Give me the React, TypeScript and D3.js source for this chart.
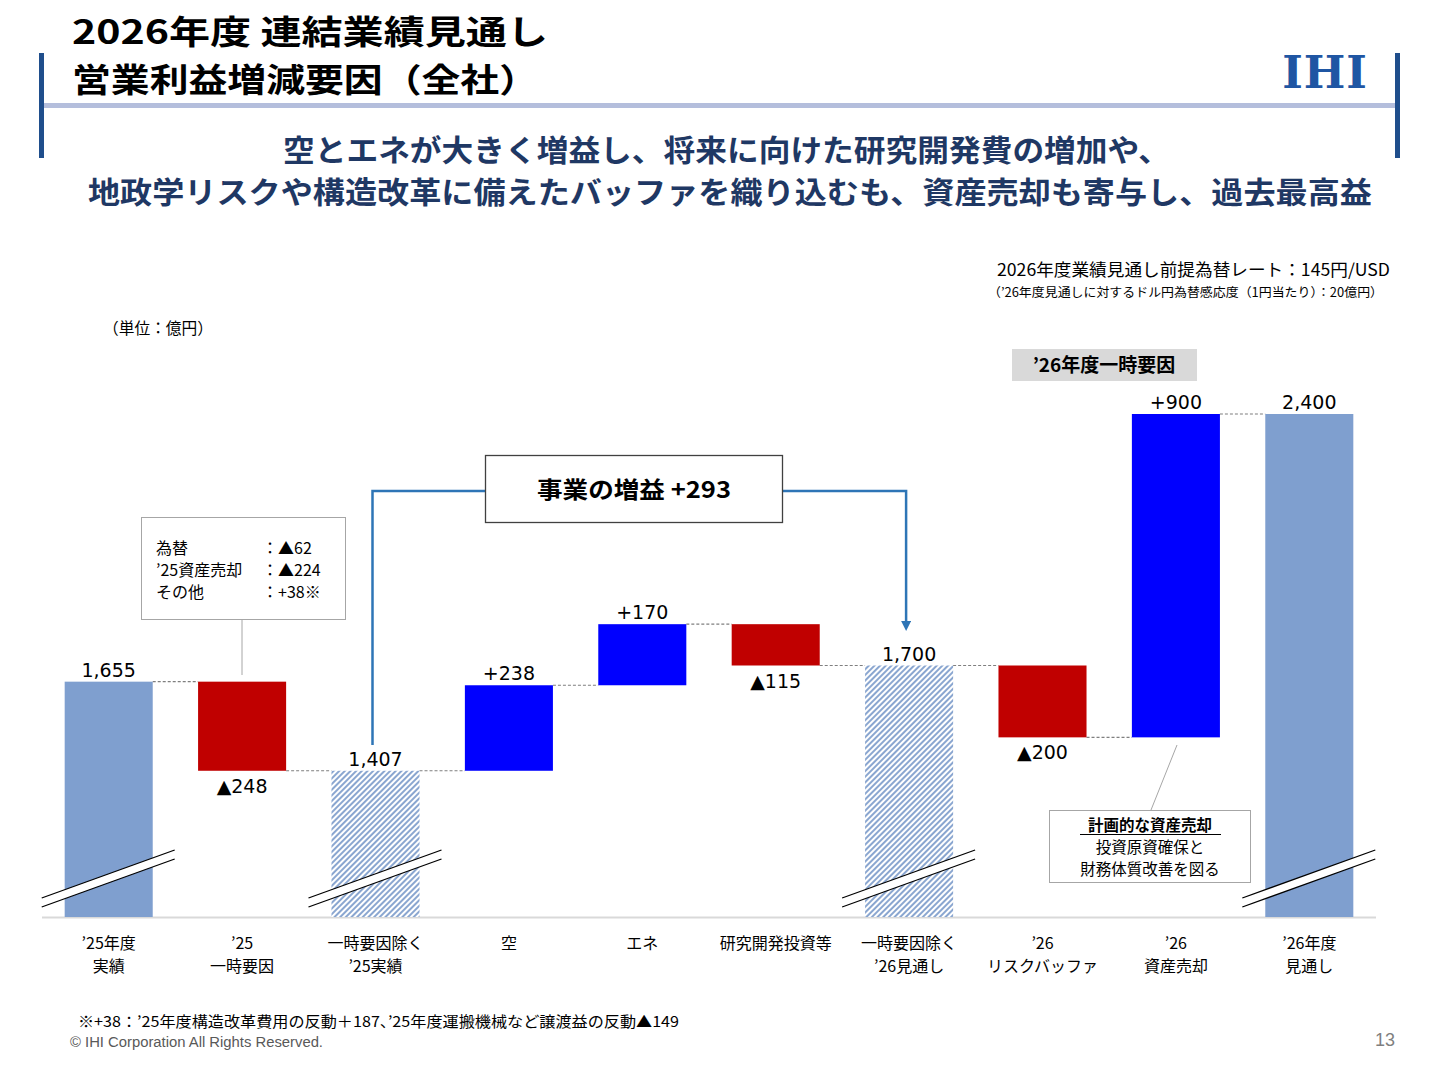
import * as d3 from "d3";

// categories (two lines each)
const categories = [
  ["’25年度", "実績"],
  ["’25", "一時要因"],
  ["一時要因除く", "’25実績"],
  ["空", ""],
  ["エネ", ""],
  ["研究開発投資等", ""],
  ["一時要因除く", "’26見通し"],
  ["’26", "リスクバッファ"],
  ["’26", "資産売却"],
  ["’26年度", "見通し"],
];
// change per step (total bars carry the running total)
const values = [1655, -248, 1407, 238, 170, -115, 1700, -200, 900, 2400];
// "total" = solid light blue, "hatch" = hatched subtotal, "delta" = floating bar
const kinds = ["total", "delta", "hatch", "delta", "delta", "delta", "hatch", "delta", "delta", "total"];
const labels = ["1,655", "▲248", "1,407", "+238", "+170", "▲115", "1,700", "▲200", "+900", "2,400"];

const noteLines = [
  ["為替", "：▲62"],
  ["’25資産売却", "：▲224"],
  ["その他", "：+38※"],
];

const JP = "'Noto Sans CJK JP', 'Noto Sans', sans-serif";
const NUM = "'DejaVu Sans', Verdana, sans-serif";

const colors = {
  total: "#7F9FCF",
  up: "#0000FF",
  down: "#C00000",
  hatch: "#8AA6D0",
  navy: "#1F3864",
  frame: "#1F4E8C",
  connector: "#2E75B6",
};

export default function App() {
  const baseY = 917;
  const x = d3
    .scaleBand<number>()
    .domain(d3.range(categories.length))
    .range([42, 1376])
    .paddingInner(0.34)
    .paddingOuter(0.17);
  const y = d3.scaleLinear().domain([1000, 2400]).range([baseY, 414]);

  // running totals for the waterfall
  let run = 0;
  const bars = values.map((v, i) => {
    let lo: number, hi: number, end: number;
    if (kinds[i] === "delta") {
      lo = Math.min(run, run + v);
      hi = Math.max(run, run + v);
      end = run + v;
    } else {
      lo = 1000;
      hi = v;
      end = v;
    }
    run = end;
    return { i, v, lo, hi, end, kind: kinds[i] };
  });

  const bw = x.bandwidth();
  const mid = (i: number) => (x(i) ?? 0) + bw / 2;

  // break marks over the total bars
  const breakBars = [0, 2, 6, 9];

  return (
    <svg
      width={1440}
      height={1080}
      style={{ position: "absolute", left: 0, top: 0, background: "#fff" }}
    >
      <defs>
        <pattern id="hatch" width="4" height="4" patternUnits="userSpaceOnUse" patternTransform="rotate(45)">
          <rect width="4" height="4" fill="#fff" />
          <rect width="2" height="4" fill={colors.hatch} />
        </pattern>
        <marker id="arrow" viewBox="0 0 10 10" refX="5" refY="5" markerWidth="4" markerHeight="4" orient="auto">
          <path d="M0,0 L10,5 L0,10 z" fill={colors.connector} />
        </marker>
      </defs>

      {/* header */}
      <text x={72} y={44} fontFamily={JP} fontWeight="bold" fontSize={33} fill="#000" textLength={476} lengthAdjust="spacingAndGlyphs">
        2026年度 連結業績見通し
      </text>
      <text x={72} y={92} fontFamily={JP} fontWeight="bold" fontSize={33} fill="#000" textLength={466} lengthAdjust="spacingAndGlyphs">
        営業利益増減要因（全社）
      </text>
      <rect x={39} y={53} width={5} height={105} fill={colors.frame} />
      <rect x={1395} y={53} width={5} height={105} fill={colors.frame} />
      <rect x={44} y={103} width={1351} height={5} fill="#B4BEDC" />
      <text
        x={1325}
        y={88}
        textAnchor="middle"
        fontFamily="'DejaVu Serif', 'Liberation Serif', serif"
        fontWeight="bold"
        fontSize={44}
        fill="#1F56A3"
        letterSpacing={1}
      >
        IHI
      </text>

      <text x={283} y={161} fontFamily={JP} fontWeight="bold" fontSize={30} fill={colors.navy} textLength={887} lengthAdjust="spacingAndGlyphs">
        空とエネが大きく増益し、将来に向けた研究開発費の増加や、
      </text>
      <text x={88} y={203} fontFamily={JP} fontWeight="bold" fontSize={30} fill={colors.navy} textLength={1284} lengthAdjust="spacingAndGlyphs">
        地政学リスクや構造改革に備えたバッファを織り込むも、資産売却も寄与し、過去最高益
      </text>

      <text x={997} y={276} fontFamily={JP} fontSize={17} fill="#000" textLength={393} lengthAdjust="spacingAndGlyphs">
        2026年度業績見通し前提為替レート：145円/USD
      </text>
      <text x={988} y={297} fontFamily={JP} fontSize={12.5} fill="#000" textLength={395} lengthAdjust="spacingAndGlyphs">
        （’26年度見通しに対するドル円為替感応度（1円当たり）：20億円）
      </text>
      <text x={103} y={334} fontFamily={JP} fontSize={16} fill="#000" textLength={110} lengthAdjust="spacingAndGlyphs">
        （単位：億円）
      </text>

      <rect x={1012} y={349} width={185} height={32} fill="#D9D9D9" />
      <text x={1104} y={372} textAnchor="middle" fontFamily={JP} fontWeight="bold" fontSize={19} fill="#000">
        ’26年度一時要因
      </text>

      {/* axis line */}
      <line x1={42} x2={1376} y1={baseY + 0.5} y2={baseY + 0.5} stroke="#D9D9D9" strokeWidth={2} />

      {/* dashed connectors */}
      {bars.slice(0, -1).map((b) => {
        const x1 = (x(b.i) ?? 0) + bw;
        const x2 = x(b.i + 1) ?? 0;
        return (
          <line
            key={"c" + b.i}
            x1={x1}
            x2={x2}
            y1={y(b.end)}
            y2={y(b.end)}
            stroke="#7F7F7F"
            strokeWidth={1.2}
            strokeDasharray="3,2"
          />
        );
      })}

      {/* bars */}
      {bars.map((b) => {
        const fill =
          b.kind === "total" ? colors.total : b.kind === "hatch" ? "url(#hatch)" : b.v >= 0 ? colors.up : colors.down;
        return (
          <rect key={"b" + b.i} x={x(b.i)} y={y(b.hi)} width={bw} height={y(b.lo) - y(b.hi)} fill={fill} />
        );
      })}

      {/* break marks */}
      {breakBars.map((i) => {
        const cx = mid(i);
        const x1 = cx - 67;
        const x2 = cx + 66;
        const y1 = 898;
        const y2 = 850;
        return (
          <g key={"br" + i}>
            <polygon points={`${x1},${y1} ${x2},${y2} ${x2},${y2 + 9} ${x1},${y1 + 9}`} fill="#fff" />
            <line x1={x1} y1={y1} x2={x2} y2={y2} stroke="#000" strokeWidth={1.3} />
            <line x1={x1} y1={y1 + 9} x2={x2} y2={y2 + 9} stroke="#000" strokeWidth={1.3} />
          </g>
        );
      })}

      {/* value labels */}
      {bars.map((b) => {
        const below = b.v < 0;
        const ly = below ? y(b.lo) + 22 : y(b.hi) - 5;
        return (
          <text key={"l" + b.i} x={mid(b.i)} y={ly} textAnchor="middle" fontFamily={NUM} fontSize={19} fill="#000">
            {labels[b.i]}
          </text>
        );
      })}

      {/* category labels */}
      {categories.map((c, i) => (
        <text key={"t" + i} x={mid(i)} textAnchor="middle" fontFamily={JP} fontSize={16} fill="#000">
          <tspan x={mid(i)} y={949}>
            {c[0]}
          </tspan>
          <tspan x={mid(i)} y={972}>
            {c[1]}
          </tspan>
        </text>
      ))}

      {/* business gain bracket */}
      <polyline
        points={`${mid(2) - 3},745 ${mid(2) - 3},491 485,491`}
        fill="none"
        stroke={colors.connector}
        strokeWidth={2.5}
      />
      <polyline
        points={`782,491 ${mid(6) - 3},491 ${mid(6) - 3},626`}
        fill="none"
        stroke={colors.connector}
        strokeWidth={2.5}
        markerEnd="url(#arrow)"
      />
      <rect x={485.5} y={455.5} width={297} height={67} fill="#fff" stroke="#404040" strokeWidth={1.3} />
      <text x={634} y={498} textAnchor="middle" fontFamily={JP} fontWeight="bold" fontSize={23} fill="#000" textLength={194} lengthAdjust="spacingAndGlyphs">
        事業の増益 +293
      </text>

      {/* note box for '25 one-off */}
      <line x1={242} y1={620} x2={242} y2={675} stroke="#A6A6A6" strokeWidth={1} />
      <rect x={141.5} y={517.5} width={204} height={102} fill="#fff" stroke="#A6A6A6" strokeWidth={1} />
      {noteLines.map((l, i) => (
        <g key={"n" + i}>
          <text x={156} y={554 + i * 22} fontFamily={JP} fontSize={16} fill="#000">
            {l[0]}
          </text>
          <text x={262} y={554 + i * 22} fontFamily={JP} fontSize={16} fill="#000">
            {l[1]}
          </text>
        </g>
      ))}

      {/* note box for '26 asset sale */}
      <line x1={1177} y1={745} x2={1151} y2={810} stroke="#A6A6A6" strokeWidth={1} />
      <rect x={1049.5} y={810.5} width={201} height={72} fill="#fff" stroke="#A6A6A6" strokeWidth={1} />
      <text x={1150} y={831} textAnchor="middle" fontFamily={JP} fontWeight="bold" fontSize={15.5} fill="#000">
        計画的な資産売却
      </text>
      <line x1={1080} x2={1221} y1={834.5} y2={834.5} stroke="#000" strokeWidth={1} />
      <text x={1150} y={853} textAnchor="middle" fontFamily={JP} fontSize={15.5} fill="#000">
        投資原資確保と
      </text>
      <text x={1150} y={875} textAnchor="middle" fontFamily={JP} fontSize={15.5} fill="#000">
        財務体質改善を図る
      </text>

      {/* footer */}
      <text x={78} y={1027} fontFamily={JP} fontSize={15} fill="#000" textLength={601} lengthAdjust="spacingAndGlyphs">
        ※+38：’25年度構造改革費用の反動＋187、’25年度運搬機械など譲渡益の反動▲149
      </text>
      <text x={70} y={1047} fontFamily="'Liberation Sans', Arial, sans-serif" fontSize={14} fill="#595959" textLength={253} lengthAdjust="spacingAndGlyphs">
        © IHI Corporation All Rights Reserved.
      </text>
      <text x={1395} y={1046} textAnchor="end" fontFamily="'Liberation Sans', Arial, sans-serif" fontSize={18} fill="#7F7F7F">
        13
      </text>
    </svg>
  );
}
